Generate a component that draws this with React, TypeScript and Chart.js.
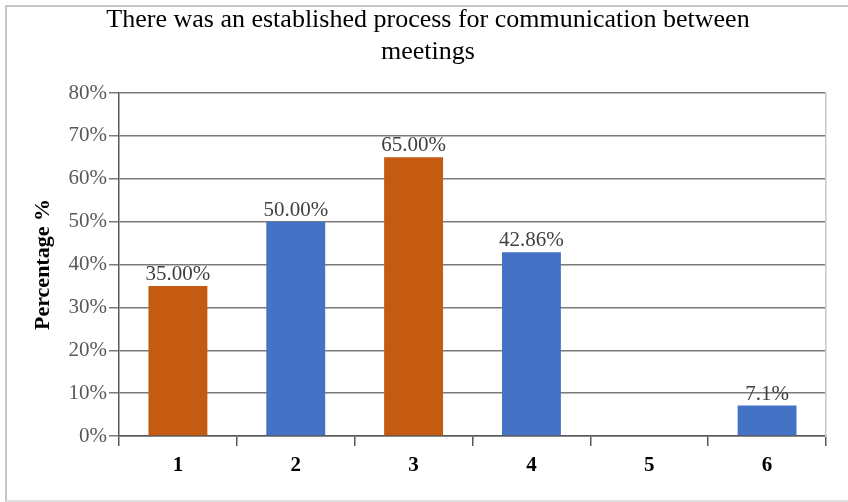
import React, { useEffect, useRef } from 'react';
import { Chart, registerables } from 'chart.js';

Chart.register(...registerables);

const titleLines = ['There was an established process for communication between', 'meetings'];
const yAxisTitle = 'Percentage %';
const categories = ['1', '2', '3', '4', '5', '6'];
const values = [35, 50, 65, 42.86, 0, 7.1];
const valueLabels = ['35.00%', '50.00%', '65.00%', '42.86%', '', '7.1%'];
const barColors = ['#C55A11', '#4472C4', '#C55A11', '#4472C4', '#C55A11', '#4472C4'];
const yMin = 0;
const yMax = 80;
const yStep = 10;

const SERIF = "'Liberation Serif', 'Times New Roman', serif";

const labelPlugin = {
  id: 'valueLabels',
  afterDatasetsDraw(chart: any) {
    const ctx = chart.ctx;
    const meta = chart.getDatasetMeta(0);
    ctx.save();
    ctx.font = `21px ${SERIF}`;
    ctx.fillStyle = '#404040';
    ctx.textAlign = 'center';
    ctx.textBaseline = 'alphabetic';
    meta.data.forEach((bar: any, i: number) => {
      const t = valueLabels[i];
      if (!t) return;
      ctx.fillText(t, bar.x, bar.y - 6);
    });
    ctx.restore();
  },
};

export default function App() {
  const ref = useRef<HTMLCanvasElement>(null);
  useEffect(() => {
    const chart = new Chart(ref.current!, {
      type: 'bar',
      data: {
        labels: categories,
        datasets: [
          {
            data: values,
            backgroundColor: barColors,
            borderWidth: 0,
            barPercentage: 0.5,
            categoryPercentage: 1,
          },
        ],
      },
      options: {
        responsive: false,
        animation: false,
        devicePixelRatio: 1,
        layout: { padding: { left: 8, top: 0, right: 0, bottom: 0 } },
        plugins: {
          legend: { display: false },
          tooltip: { enabled: false },
          title: {
            display: true,
            text: titleLines,
            color: '#000',
            font: { family: SERIF, size: 26, weight: 'normal', lineHeight: 1.2 },
            padding: { top: 5, bottom: 25.6 },
          },
        },
        scales: {
          x: {
            grid: {
              offset: true,
              drawOnChartArea: false,
              drawTicks: true,
              tickLength: 10,
              color: '#595959',
              lineWidth: 1.5,
            },
            border: { display: true, color: '#595959', width: 1.5 },
            ticks: {
              color: '#000',
              font: { family: SERIF, size: 21, weight: 'bold' },
              padding: 7,
            },
            afterFit: (s: any) => {
              s.height = 66;
            },
          },
          y: {
            min: yMin,
            max: yMax,
            ticks: {
              stepSize: yStep,
              callback: (v: any) => v + '%',
              color: '#595959',
              font: { family: SERIF, size: 21 },
              padding: 2,
            },
            grid: { color: '#7a7a7a', lineWidth: 1.5, tickLength: 10 },
            border: { display: true, color: '#595959', width: 1.5 },
            title: {
              display: true,
              text: yAxisTitle,
              color: '#000',
              font: { family: SERIF, size: 22, weight: 'bold' },
              padding: { top: 22.5, bottom: 0 },
            },
            afterFit: (s: any) => {
              s.width = 111;
            },
          },
          y2: {
            position: 'right',
            display: true,
            grid: { display: false },
            ticks: { display: false },
            border: { display: true, color: '#c8c8c8', width: 1.5 },
            afterFit: (s: any) => {
              s.width = 22;
            },
          },
        },
      } as any,
      plugins: [labelPlugin],
    });
    return () => chart.destroy();
  }, []);

  return (
    <div style={{ position: 'absolute', left: 0, top: 0, width: 848, height: 502, background: '#fff' }}>
      <div
        style={{
          position: 'absolute',
          left: 5,
          top: 5,
          width: 860,
          height: 493,
          borderTop: '2px solid #c6c6c6',
          borderLeft: '2px solid #c6c6c6',
          borderBottom: '2px solid #e0e0e0',
        }}
      />
      <canvas
        ref={ref}
        width={848}
        height={502}
        style={{ position: 'absolute', left: 0, top: 0, display: 'block' }}
      />
    </div>
  );
}
